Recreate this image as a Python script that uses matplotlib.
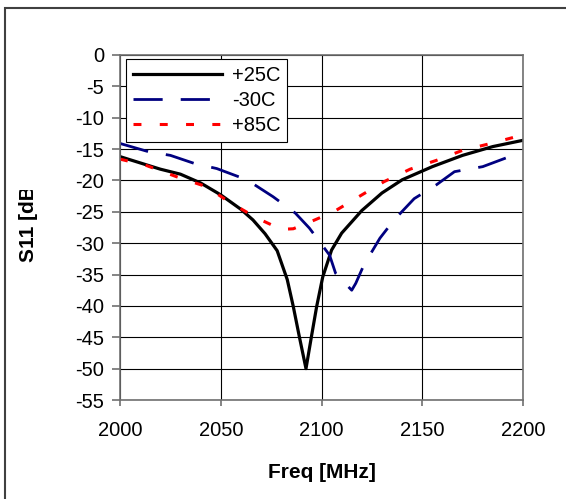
import matplotlib
matplotlib.use("Agg")
import matplotlib.pyplot as plt
from matplotlib.patches import Rectangle
from matplotlib.transforms import Bbox

plt.rcParams['font.family'] = ['Liberation Sans', 'DejaVu Sans']
plt.rcParams['axes.unicode_minus'] = False

# +25C
f_25 = [2000, 2010, 2020, 2030, 2040, 2050, 2060, 2066, 2072, 2078, 2083, 2086, 2089,
        2092.3, 2095, 2097.6, 2100.6, 2105, 2110, 2120, 2130, 2140, 2155, 2170, 2185, 2200]
s11_25 = [-16.2, -17.2, -18.2, -19.0, -20.4, -22.3, -24.6, -26.3, -28.5, -31.2, -35.8, -40.1, -44.9,
          -50.0, -44.9, -40.1, -35.4, -31.1, -28.4, -24.8, -22.0, -19.9, -17.8, -16.0, -14.6, -13.6]

# -30C
f_m30 = [2000, 2014, 2025, 2037, 2048, 2063, 2076, 2087, 2094, 2104, 2107, 2112, 2115,
         2117, 2121, 2129, 2136, 2146, 2157, 2166, 2180, 2195]
s11_m30 = [-14.1, -15.4, -16.0, -17.3, -18.1, -19.9, -22.6, -25.2, -27.6, -31.9, -34.8, -36.5, -37.5,
           -36.4, -33.5, -29.2, -26.3, -22.9, -20.7, -18.6, -17.8, -16.0]

# +85C
f_85 = [2000, 2013, 2028, 2043, 2054, 2068, 2080, 2086, 2093, 2106, 2119, 2131, 2144,
        2157, 2170, 2184, 2198]
s11_85 = [-16.6, -17.6, -19.4, -21.0, -23.4, -26.0, -27.8, -27.7, -26.8, -25.0, -22.5, -20.2, -18.2,
          -16.8, -15.2, -14.1, -12.9]

labels = ['+25C', '-30C', '+85C']
xticks = [2000, 2050, 2100, 2150, 2200]
yticks = list(range(0, -60, -5))

W, H = 566, 499
fig = plt.figure(figsize=(W / 100, H / 100), dpi=100)
ax = fig.add_axes([120 / W, 1 - 400 / H, 403 / W, 345 / H])

# outer chart-area frame (cut off at right/bottom)
fig.patches.append(Rectangle((5 / W, -0.05), 1.2, 1 - 8 / H + 0.05, transform=fig.transFigure,
                             fill=False, edgecolor='#404040', linewidth=1.5, clip_on=False))

ax.plot(f_25, s11_25, color='black', lw=2.3, label=labels[0])
ax.plot(f_m30, s11_m30, color='#000080', lw=2.0, dashes=(10.5, 6.5), label=labels[1])
ax.plot(f_85, s11_85, color='#ff0000', lw=2.2, dashes=(2.6, 6.0), label=labels[2])

ax.set_xlim(2000, 2200)
ax.set_ylim(-55, 0)
ax.set_xticks(xticks)
ax.set_yticks(yticks)
ax.grid(True, color='black', lw=0.8)
ax.set_axisbelow(True)
for sp in ax.spines.values():
    sp.set_color('#707070')
    sp.set_linewidth(1.2)
ax.tick_params(axis='both', direction='out', color='#707070', width=1.2, labelsize=14.5)
ax.tick_params(axis='y', length=5.5, pad=6)
ax.tick_params(axis='x', length=4, pad=11)

ax.set_xlabel('Freq [MHz]', fontsize=15, fontweight='bold', labelpad=17)

yl = fig.text(28 / W, 1 - 262 / H, 'S11 [dB]', rotation=90, ha='center', va='bottom',
              fontsize=15, fontweight='bold')
yl.set_clip_on(True)
yl.set_clip_box(Bbox.from_extents(0, 0, W, H - 190))

leg = ax.legend(loc='upper left', bbox_to_anchor=(0.015, 0.988), borderaxespad=0,
                fontsize=14.5, handlelength=4.4, handletextpad=0.5, labelspacing=0.3,
                borderpad=0.35, fancybox=False, framealpha=1, edgecolor='black')
leg.get_frame().set_linewidth(0.8)

fig.savefig('out.png', dpi=100)
